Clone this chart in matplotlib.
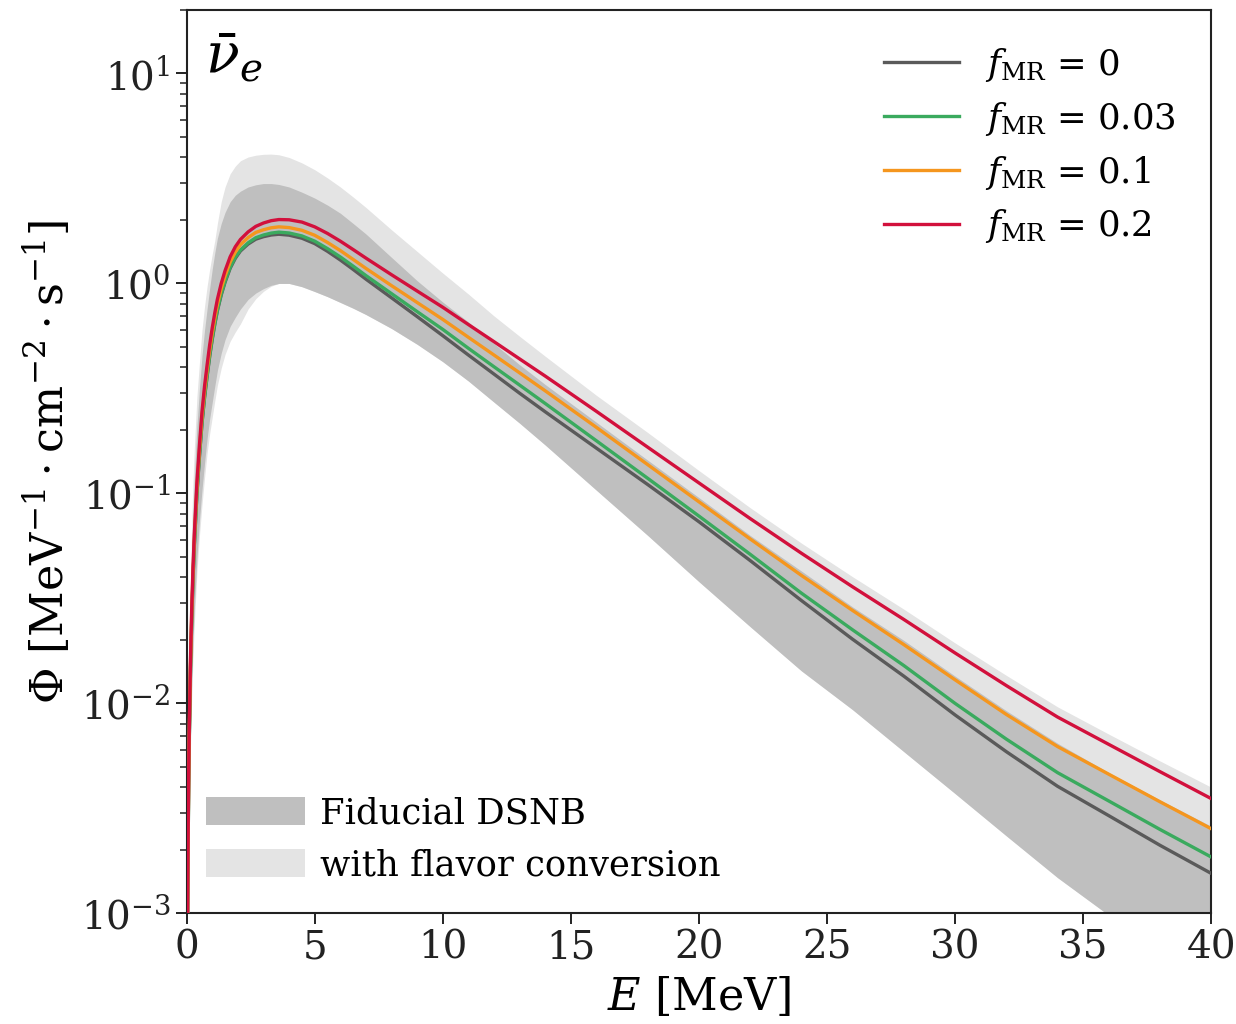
import matplotlib
matplotlib.use('Agg')
import matplotlib.pyplot as plt
from matplotlib.patches import Patch

plt.rcParams['font.family'] = ['DejaVu Serif']
plt.rcParams['mathtext.fontset'] = 'dejavuserif'

# ---------------- data ----------------
energy = [0.03, 0.05, 0.08, 0.1, 0.15, 0.2, 0.25, 0.3, 0.4, 0.5,
          0.6, 0.7, 0.8, 0.9, 1.0, 1.1, 1.2, 1.35, 1.5, 1.7,
          1.9, 2.1, 2.4, 2.7, 3.0, 3.3, 3.6, 4.0, 4.5, 5.0,
          5.5, 6.0, 6.5, 7, 8, 9, 10, 11, 12, 13,
          14, 16, 18, 20, 22, 24, 26, 28, 30, 32,
          34, 36, 38, 40]

phi_f0 = [0.000581, 0.00161, 0.00414, 0.00643, 0.01436, 0.02537, 0.03947, 0.05638, 0.09867, 0.1498,
          0.216, 0.2863, 0.3612, 0.4493, 0.5418, 0.6387, 0.740, 0.881, 1.013, 1.181,
          1.317, 1.427, 1.540, 1.625, 1.670, 1.701, 1.715, 1.698, 1.642, 1.548,
          1.422, 1.293, 1.166, 1.048, 0.854, 0.695, 0.564, 0.456, 0.370, 0.300,
          0.2447, 0.1642, 0.1102, 0.0733, 0.0479, 0.0309, 0.0202, 0.01348, 0.00881, 0.00589,
          0.00403, 0.00292, 0.00211, 0.00155]

phi_f003 = [0.000588, 0.00163, 0.00419, 0.0065, 0.01452, 0.02566, 0.03992, 0.05702, 0.0998, 0.1515,
            0.2183, 0.2896, 0.3653, 0.4544, 0.548, 0.646, 0.748, 0.891, 1.025, 1.194,
            1.332, 1.443, 1.561, 1.651, 1.701, 1.737, 1.755, 1.739, 1.684, 1.590,
            1.465, 1.337, 1.209, 1.090, 0.894, 0.734, 0.604, 0.491, 0.401, 0.328,
            0.268, 0.178, 0.118, 0.078, 0.0513, 0.0335, 0.0224, 0.01514, 0.0100, 0.00676,
            0.00468, 0.00343, 0.00251, 0.001855]

phi_f01 = [0.000623, 0.00173, 0.00444, 0.00689, 0.01539, 0.02719, 0.04229, 0.06042, 0.1057, 0.1605,
           0.2313, 0.3068, 0.387, 0.4814, 0.5806, 0.6844, 0.793, 0.944, 1.086, 1.265,
           1.411, 1.529, 1.654, 1.750, 1.802, 1.841, 1.860, 1.845, 1.791, 1.696,
           1.567, 1.434, 1.301, 1.179, 0.976, 0.811, 0.674, 0.554, 0.456, 0.375,
           0.308, 0.2062, 0.1371, 0.0912, 0.0607, 0.0407, 0.0277, 0.01905, 0.01295, 0.00886,
           0.00623, 0.0046, 0.0034, 0.00253]

phi_f02 = [0.00066, 0.00183, 0.0047, 0.0073, 0.0163, 0.0288, 0.0448, 0.064, 0.112, 0.170,
           0.245, 0.325, 0.41, 0.51, 0.615, 0.725, 0.84, 1.0, 1.15, 1.34,
           1.495, 1.62, 1.76, 1.87, 1.94, 1.99, 2.015, 2.01, 1.96, 1.86,
           1.73, 1.59, 1.45, 1.32, 1.10, 0.92, 0.77, 0.637, 0.528, 0.437,
           0.362, 0.2458, 0.166, 0.1122, 0.0759, 0.0519, 0.0359, 0.0251, 0.01738, 0.01216,
           0.00861, 0.00638, 0.00473, 0.00352]

fiducial_low = [0.0003, 0.00083, 0.0021, 0.0033, 0.0073, 0.0128, 0.0198, 0.028, 0.049, 0.074,
                0.104, 0.14, 0.183, 0.227, 0.272, 0.325, 0.385, 0.465, 0.54, 0.625,
                0.69, 0.755, 0.84, 0.9, 0.945, 0.98, 1.0, 1.0, 0.965, 0.915,
                0.865, 0.812, 0.762, 0.711, 0.61, 0.513, 0.424, 0.343, 0.272, 0.216,
                0.170, 0.1035, 0.0631, 0.038, 0.0232, 0.01429, 0.00933, 0.00589, 0.00372, 0.00234,
                0.00148, 0.00098, 0.00063, 0.00041]

fiducial_high = [0.00122, 0.00339, 0.0087, 0.0135, 0.0302, 0.0533, 0.0829, 0.118, 0.207, 0.315,
                 0.453, 0.60, 0.76, 0.95, 1.17, 1.40, 1.64, 1.93, 2.18, 2.45,
                 2.63, 2.75, 2.88, 2.95, 2.99, 2.99, 2.96, 2.88, 2.72, 2.55,
                 2.36, 2.16, 1.93, 1.72, 1.33, 1.03, 0.815, 0.655, 0.517, 0.41,
                 0.33, 0.218, 0.144, 0.0955, 0.0631, 0.0427, 0.0288, 0.01995, 0.01349, 0.00923,
                 0.00646, 0.00468, 0.00347, 0.0026]

conversion_low = [0.000255, 0.000706, 0.00179, 0.0028, 0.0062, 0.0109, 0.0168, 0.0238, 0.0417, 0.0629,
                  0.0884, 0.119, 0.156, 0.193, 0.231, 0.276, 0.327, 0.395, 0.459, 0.531,
                  0.587, 0.642, 0.756, 0.846, 0.917, 0.97, 1.0, 1.0, 0.965, 0.915,
                  0.865, 0.812, 0.762, 0.711, 0.61, 0.513, 0.424, 0.343, 0.272, 0.216,
                  0.170, 0.1035, 0.0631, 0.038, 0.0232, 0.01429, 0.00933, 0.00589, 0.00372, 0.00234,
                  0.00148, 0.00098, 0.00063, 0.00041]

conversion_high = [0.0017, 0.0047, 0.012, 0.0188, 0.042, 0.074, 0.115, 0.164, 0.287, 0.42,
                   0.6, 0.78, 0.97, 1.17, 1.38, 1.6, 1.93, 2.45, 2.88, 3.33,
                   3.62, 3.84, 4.0, 4.08, 4.12, 4.13, 4.1, 3.98, 3.75, 3.48,
                   3.18, 2.88, 2.58, 2.30, 1.80, 1.42, 1.12, 0.89, 0.70, 0.56,
                   0.45, 0.293, 0.195, 0.1285, 0.0855, 0.058, 0.0401, 0.0281, 0.0194, 0.0136,
                   0.00963, 0.00714, 0.00532, 0.00399]

series = [phi_f0, phi_f003, phi_f01, phi_f02]
series_labels = [r'$f_{\rm MR}$ = 0', r'$f_{\rm MR}$ = 0.03',
                 r'$f_{\rm MR}$ = 0.1', r'$f_{\rm MR}$ = 0.2']
series_colors = ['#5a5a5a', '#3aaa5e', '#f5961e', '#d2103c']
band_labels = ['Fiducial DSNB', 'with flavor conversion']
band_colors = ['#bfbfbf', '#e4e4e4']
x_ticks = [0, 5, 10, 15, 20, 25, 30, 35, 40]

# ---------------- figure ----------------
fig = plt.figure(figsize=(12.36, 10.24), dpi=100)
ax = fig.add_axes([0.151, 0.108, 0.829, 0.882])

ax.fill_between(energy, conversion_low, conversion_high, color=band_colors[1], lw=0, zorder=1)
ax.fill_between(energy, fiducial_low, fiducial_high, color=band_colors[0], lw=0, zorder=2)

line_handles = []
for vals, lab, col in zip(series, series_labels, series_colors):
    h, = ax.plot(energy, vals, color=col, lw=2.4, label=lab, zorder=3,
                 solid_joinstyle='round')
    line_handles.append(h)

ax.set_yscale('log')
ax.set_xlim(0, 40)
ax.set_ylim(1e-3, 20)
ax.set_xticks(x_ticks)

ax.tick_params(axis='both', which='major', labelsize=28, length=8, width=1.4,
               direction='out', colors='#222222')
ax.tick_params(axis='y', which='minor', length=5, width=1.1, direction='out',
               colors='#222222')
for sp in ax.spines.values():
    sp.set_color('#222222')
    sp.set_linewidth(1.5)

ax.set_xlabel(r'$E$ [MeV]', fontsize=32, labelpad=6)
ax.set_ylabel(r'$\Phi\ [\mathrm{MeV}^{-1} \cdot \mathrm{cm}^{-2} \cdot \mathrm{s}^{-1}]$',
              fontsize=32, labelpad=6)

ax.text(0.018, 0.978, r'$\bar{\nu}_e$', transform=ax.transAxes, fontsize=40,
        va='top', ha='left')

leg1 = ax.legend(handles=line_handles, loc='upper right', frameon=False, fontsize=25.5,
                 handlelength=2.1, handletextpad=0.75, labelspacing=0.45,
                 borderaxespad=0.6)
ax.add_artist(leg1)

patches = [Patch(facecolor=c, edgecolor='none', label=l)
           for c, l in zip(band_colors, band_labels)]
ax.legend(handles=patches, loc='lower left', bbox_to_anchor=(0.0, 0.013),
          frameon=False, fontsize=25.5,
          handlelength=2.8, handleheight=0.85, handletextpad=0.42,
          labelspacing=0.5, borderaxespad=0.15)

fig.savefig('out.png', dpi=100)
